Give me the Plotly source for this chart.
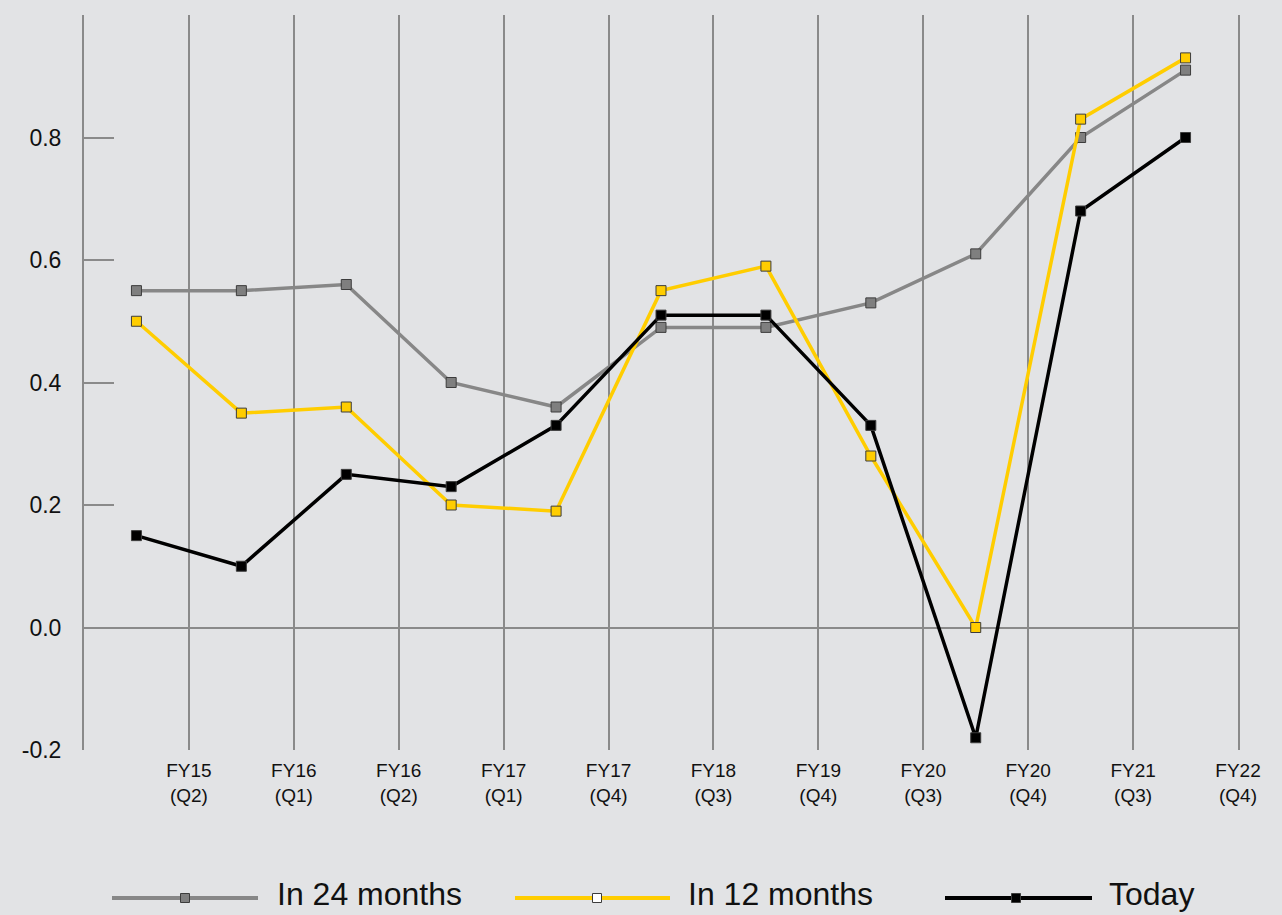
import plotly.graph_objects as go

# Survey periods (points sit between the period boundaries)
periods = ["FY15<br>(Q2)", "FY16<br>(Q1)", "FY16<br>(Q2)", "FY17<br>(Q1)", "FY17<br>(Q4)",
           "FY18<br>(Q3)", "FY19<br>(Q4)", "FY20<br>(Q3)", "FY20<br>(Q4)", "FY21<br>(Q3)",
           "FY22<br>(Q4)"]

in_24_months = [0.55, 0.55, 0.56, 0.40, 0.36, 0.49, 0.49, 0.53, 0.61, 0.80, 0.91]
in_12_months = [0.50, 0.35, 0.36, 0.20, 0.19, 0.55, 0.59, 0.28, 0.00, 0.83, 0.93]
today = [0.15, 0.10, 0.25, 0.23, 0.33, 0.51, 0.51, 0.33, -0.18, 0.68, 0.80]

y_ticks = [-0.2, 0.0, 0.2, 0.4, 0.6, 0.8]

BG = "#e2e3e5"
GRID = "#8a8a8a"
EDGE = "#3c3c3c"

series = [
    ("In 24 months", in_24_months, "#878787", "#7f7f7f"),
    ("In 12 months", in_12_months, "#ffcd00", "#ffcd00"),
    ("Today", today, "#000000", "#000000"),
]

x_pos = [i + 0.5 for i in range(len(periods))]

fig = go.Figure()
for name, vals, line_col, fill_col in series:
    fig.add_trace(go.Scatter(
        x=x_pos, y=vals, name=name, mode="lines+markers",
        line=dict(color=line_col, width=3.5),
        marker=dict(symbol="square", size=10, color=fill_col,
                    line=dict(color=EDGE, width=1)),
        showlegend=False,
    ))

# Plot area in pixels, used to place the custom legend under the chart
W, H = 1282, 915
L, R, T, B = 84, 44, 15, 165
pw, ph = W - L - R, H - T - B


def px(x):
    return (x - L) / pw


def py(y):
    return (H - B - y) / ph


shapes = []
annotations = []
legend_items = [
    (112, 258, 185, 276),
    (515, 670, 597, 687),
    (945, 1092, 1016, 1108),
]
ly = 898
for (name, vals, line_col, fill_col), (x0, x1, xm, xt) in zip(series, legend_items):
    shapes.append(dict(type="line", xref="paper", yref="paper",
                       x0=px(x0), x1=px(x1), y0=py(ly), y1=py(ly),
                       line=dict(color=line_col, width=4)))
    marker_fill = "#ffffff" if name == "In 12 months" else fill_col
    shapes.append(dict(type="rect", xref="paper", yref="paper",
                       x0=px(xm - 4.5), x1=px(xm + 4.5),
                       y0=py(ly + 4.5), y1=py(ly - 4.5),
                       fillcolor=marker_fill, line=dict(color=EDGE, width=1)))
    annotations.append(dict(text=name, xref="paper", yref="paper",
                            x=px(xt), y=py(913), xanchor="left", yanchor="bottom",
                            showarrow=False, borderpad=0,
                            font=dict(size=32, color="#111111")))

fig.update_layout(
    width=W, height=H,
    margin=dict(l=L, r=R, t=T, b=B),
    paper_bgcolor=BG, plot_bgcolor=BG,
    font=dict(family="Liberation Sans, Arial, sans-serif", color="#111111"),
    shapes=shapes,
    annotations=annotations,
    xaxis=dict(
        range=[0, len(periods)],
        tickmode="array",
        tickvals=list(range(len(periods) + 1)),
        ticktext=[""] + periods,
        showgrid=True, gridcolor=GRID, gridwidth=2,
        zeroline=False, showline=False, ticks="",
        tickfont=dict(size=19),
        ticklabelstandoff=7,
        fixedrange=True,
    ),
    yaxis=dict(
        range=[-0.2, 1.0],
        tickmode="array",
        tickvals=y_ticks,
        ticktext=[f"{v:.1f}" for v in y_ticks],
        showgrid=False,
        zeroline=True, zerolinecolor=GRID, zerolinewidth=2,
        ticks="inside", ticklen=30, tickcolor=GRID, tickwidth=2,
        showline=True, linecolor=GRID, linewidth=2, mirror=True,
        tickfont=dict(size=23),
        ticklabelstandoff=16,
        fixedrange=True,
    ),
)

fig.write_html("out.html")
